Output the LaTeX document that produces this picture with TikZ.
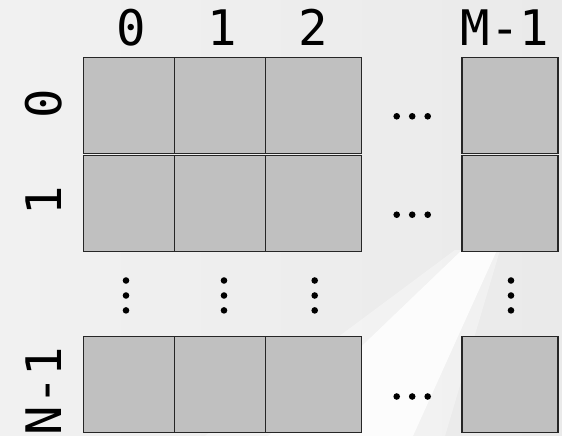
\documentclass[tikz,border=0pt]{standalone}
\usepackage{fontspec}
\newfontfamily\monofam{DejaVu Sans Mono}
\begin{document}
\begin{tikzpicture}[x=1pt,y=-1pt,
  cellbox/.style={draw=black!85,line width=1.1pt,fill=cellgray,minimum width=96pt,minimum height=96pt,inner sep=0pt,outer sep=0pt},
  lab/.style={font=\monofam\fontsize{49}{49}\selectfont,inner sep=0pt,anchor=base},
  rlab/.style={lab,rotate=90},
  dotc/.style={circle,fill=black,minimum size=6.6pt,inner sep=0pt}]
\definecolor{cellgray}{HTML}{C0C0C0}
\definecolor{bgc}{HTML}{F1F1F1}
\definecolor{bgr}{HTML}{EAEAEA}
\useasboundingbox (0,0) rectangle (562,436);
\shade[left color=bgc,right color=bgr] (0,0) rectangle (562,436);
% light beam
\fill[white,opacity=0.35] (455,250) -- (500,250) -- (445,436) -- (205,436) -- cycle;
\fill[white,opacity=0.8] (462,250) -- (497,250) -- (413,436) -- (268,436) -- cycle;
% column labels
\node[lab] (c0) at (131.5,46) {0};
\node[lab] (c1) at (222.7,46) {1};
\node[lab] (c2) at (313.7,46) {2};
\node[lab] (cm) at (505,46) {M-1};
% row labels
\node[rlab] (r0) at (61,103.5) {0};
\node[rlab] (r1) at (61,201) {1};
\node[rlab] (rn) at (61,391) {N-1};
% row 0
\node[cellbox] (a00) at (131.3,105.3) {};
\node[cellbox] (a01) at (222.7,105.3) {};
\node[cellbox] (a02) at (313.7,105.3) {};
\node[cellbox] (a0m) at (510,105.3) {};
% row 1
\node[cellbox] (a10) at (131.3,203.3) {};
\node[cellbox] (a11) at (222.7,203.3) {};
\node[cellbox] (a12) at (313.7,203.3) {};
\node[cellbox] (a1m) at (510,203.3) {};
% row N-1
\node[cellbox] (an0) at (131.3,384.5) {};
\node[cellbox] (an1) at (222.7,384.5) {};
\node[cellbox] (an2) at (313.7,384.5) {};
\node[cellbox] (anm) at (510,384.5) {};
% horizontal dots
\foreach \y/\n in {116.3/h0,214.7/h1,396.5/hn}{
  \node[dotc] (\n a) at (396.7,\y) {};
  \node[dotc] (\n b) at (412.2,\y) {};
  \node[dotc] (\n c) at (427.7,\y) {};
}
% vertical dots
\foreach \x/\n in {126/v0,224/v1,314.7/v2,511/vm}{
  \node[dotc] (\n a) at (\x,280.5) {};
  \node[dotc] (\n b) at (\x,295.5) {};
  \node[dotc] (\n c) at (\x,310.4) {};
}
\end{tikzpicture}
\end{document}
